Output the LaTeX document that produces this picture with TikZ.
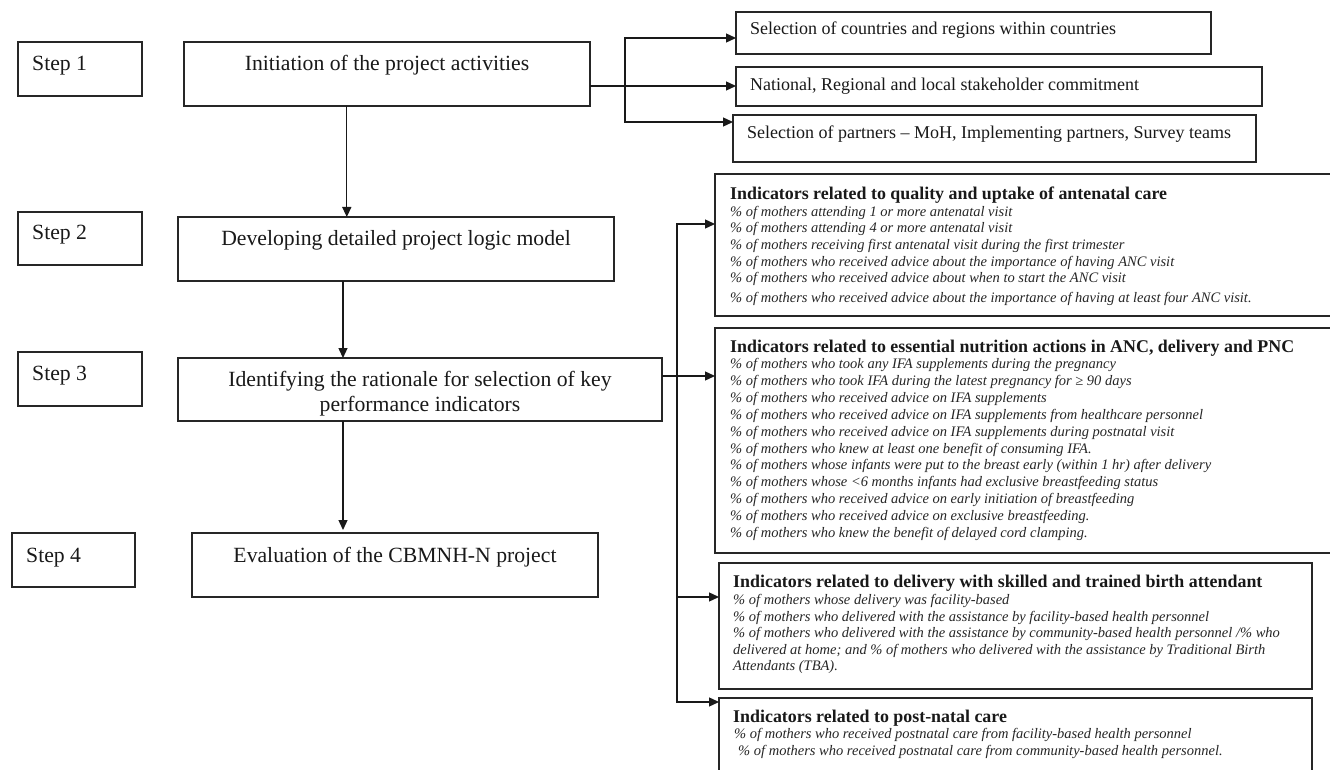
\documentclass[tikz,border=0pt]{standalone}
\usepackage{fontspec}
\setmainfont{Liberation Serif}
\usetikzlibrary{arrows.meta,calc}
\begin{document}
\begin{tikzpicture}[x=1pt,y=-1pt,
  box/.style={draw=black!85, line width=1.2pt, inner sep=0pt, outer sep=0pt, anchor=north west},
  arr/.style={draw=black!90, line width=1.3pt, -{Triangle[length=10pt,width=9pt]}},
  bigtxt/.style={font=\fontsize{21.7}{25}\selectfont, inner sep=0pt, text=black!90},
  midtxt/.style={font=\fontsize{18}{21}\selectfont, inner sep=0pt, anchor=base west, text=black!90},
  headtxt/.style={font=\fontsize{17.9}{21}\selectfont\bfseries, inner sep=0pt, anchor=base west, text=black!90},
  itemtxt/.style={font=\fontsize{14.5}{17}\selectfont\itshape, inner sep=0pt, anchor=base west, text=black!85},
]
\useasboundingbox (0,0) rectangle (1330,770);
\clip (0,0) rectangle (1330,770);
\fill[white] (0,0) rectangle (1330,770);

% step boxes
\node[box, minimum width=124pt, minimum height=54pt] (s1) at (18,42) {};
\node[box, minimum width=124pt, minimum height=53pt] (s2) at (18,212) {};
\node[box, minimum width=124pt, minimum height=54pt] (s3) at (18,352) {};
\node[box, minimum width=123pt, minimum height=54pt] (s4) at (12,533) {};
\node[bigtxt, anchor=base west] (s1t) at (32,71) {Step 1};
\node[bigtxt, anchor=base west] (s2t) at (32,239) {Step 2};
\node[bigtxt, anchor=base west] (s3t) at (32,380) {Step 3};
\node[bigtxt, anchor=base west] (s4t) at (26,562) {Step 4};

% main boxes
\node[box, minimum width=406pt, minimum height=64pt] (init) at (184,42) {};
\node[box, minimum width=436pt, minimum height=64pt] (dev) at (178,217) {};
\node[box, minimum width=484pt, minimum height=63pt] (ident) at (178,358) {};
\node[box, minimum width=406pt, minimum height=64pt] (eval) at (192,533) {};
\node[bigtxt, anchor=base] (initt) at (387,71) {Initiation of the project activities};
\node[bigtxt, anchor=base] (devt) at (396,245) {Developing detailed project logic model};
\node[bigtxt, anchor=base] (idt1) at (420,386) {Identifying the rationale for selection of key};
\node[bigtxt, anchor=base] (idt2) at (420,411) {performance indicators};
\node[bigtxt, anchor=base] (evalt) at (395,562) {Evaluation of the CBMNH-N project};

% step 1 sub boxes
\node[box, minimum width=475pt, minimum height=42pt] (A) at (736,12) {};
\node[box, minimum width=526pt, minimum height=39pt] (B) at (736,67) {};
\node[box, minimum width=523pt, minimum height=47pt] (C) at (733,115) {};
\node[midtxt] (At) at (750,35) {Selection of countries and regions within countries};
\node[midtxt] (Bt) at (750,91) {National, Regional and local stakeholder commitment};
\node[midtxt] (Ct) at (747,139) {Selection of partners – MoH, Implementing partners, Survey teams};

% indicator boxes
\node[box, minimum width=625pt, minimum height=142pt] (I1) at (715,174) {};
\node[box, minimum width=625pt, minimum height=225pt] (I2) at (715,328) {};
\node[box, minimum width=593pt, minimum height=126pt] (I3) at (719,563) {};
\node[box, minimum width=593pt, minimum height=90pt] (I4) at (719,698) {};

\node[headtxt] (h1) at (730,200) {Indicators related to quality and uptake of antenatal care};
\node[itemtxt] (i11) at (730,216.5) {\% of mothers attending 1 or more antenatal visit};
\node[itemtxt] (i12) at (730,232.5) {\% of mothers attending 4 or more antenatal visit};
\node[itemtxt] (i13) at (730,249.5) {\% of mothers receiving first antenatal visit during the first trimester};
\node[itemtxt] (i14) at (730,266.5) {\% of mothers who received advice about the importance of having ANC visit};
\node[itemtxt] (i15) at (730,282.5) {\% of mothers who received advice about when to start the ANC visit};
\node[itemtxt] (i16) at (730,302.5) {\% of mothers who received advice about the importance of having at least four ANC visit.};

\node[headtxt] (h2) at (730,352) {Indicators related to essential nutrition actions in ANC, delivery and PNC};
\node[itemtxt] (i21) at (730,368.5) {\% of mothers who took any IFA supplements during the pregnancy};
\node[itemtxt] (i22) at (730,385.4) {\% of mothers who took IFA during the latest pregnancy for ≥ 90 days};
\node[itemtxt] (i23) at (730,402.3) {\% of mothers who received advice on IFA supplements};
\node[itemtxt] (i24) at (730,419.2) {\% of mothers who received advice on IFA supplements from healthcare personnel};
\node[itemtxt] (i25) at (730,436.1) {\% of mothers who received advice on IFA supplements during postnatal visit};
\node[itemtxt] (i26) at (730,453) {\% of mothers who knew at least one benefit of consuming IFA.};
\node[itemtxt] (i27) at (730,469.9) {\% of mothers whose infants were put to the breast early (within 1 hr) after delivery};
\node[itemtxt] (i28) at (730,486.8) {\% of mothers whose <6 months infants had exclusive breastfeeding status};
\node[itemtxt] (i29) at (730,503.7) {\% of mothers who received advice on early initiation of breastfeeding};
\node[itemtxt] (i210) at (730,520.6) {\% of mothers who received advice on exclusive breastfeeding.};
\node[itemtxt] (i211) at (730,537.5) {\% of mothers who knew the benefit of delayed cord clamping.};

\node[headtxt] (h3) at (733,587) {Indicators related to delivery with skilled and trained birth attendant};
\node[itemtxt] (i31) at (733,604.5) {\% of mothers whose delivery was facility-based};
\node[itemtxt] (i32) at (733,621) {\% of mothers who delivered with the assistance by facility-based health personnel};
\node[itemtxt] (i33) at (733,637.5) {\% of mothers who delivered with the assistance by community-based health personnel /\% who};
\node[itemtxt] (i34) at (733,654) {delivered at home; and \% of mothers who delivered with the assistance by Traditional Birth};
\node[itemtxt] (i35) at (733,670.5) {Attendants (TBA).};

\node[headtxt] (h4) at (733,722) {Indicators related to post-natal care};
\node[itemtxt] (i41) at (734,738.5) {\% of mothers who received postnatal care from facility-based health personnel};
\node[itemtxt] (i42) at (738,755.5) {\% of mothers who received postnatal care from community-based health personnel.};

% vertical flow arrows
\coordinate (a1) at ($(init.south west)!0.401!(init.south east)$);
\draw[arr] (a1) -- (a1 |- dev.north);
\coordinate (a2) at ($(dev.south west)!0.3784!(dev.south east)$);
\draw[arr] (a2) -- (a2 |- ident.north);
\coordinate (a3) at ($(ident.south west)!0.3409!(ident.south east)$);
\draw[arr, shorten >=3pt] (a3) -- (a3 |- eval.north);

% step 1 branch
\coordinate (j1) at (625,86);
\draw[arr] ([yshift=20pt]init.south east) -- (B.west |- j1);
\draw[arr] (j1) |- (A.west |- 0,38);
\draw[arr] (j1) |- (C.west |- 0,122);

% step 3 branch
\coordinate (j2) at (677,376);
\draw[arr] (ident.east |- j2) -- (I2.west |- j2);
\draw[arr] (j2) |- (I1.west |- 0,224);
\draw[arr] (j2) |- (I3.west |- 0,597);
\draw[arr] (j2) |- (I4.west |- 0,702);
\end{tikzpicture}
\end{document}
